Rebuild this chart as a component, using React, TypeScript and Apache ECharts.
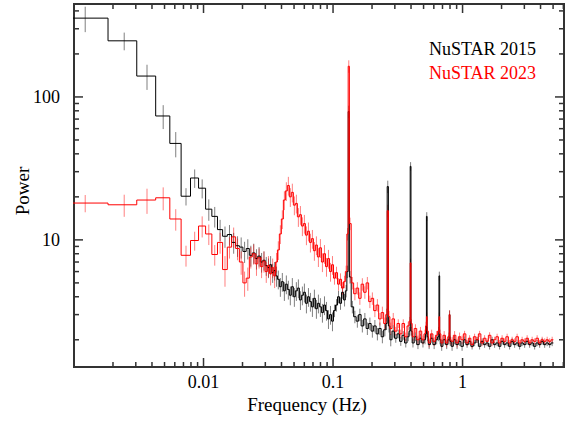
import React, { useEffect, useRef } from "react";
import * as echarts from "echarts";

// ---- Data ----
const DF = 0.0012207; // Fourier frequency resolution (Hz)
const lowBinIndex = [1, 2, 3, 4, 5, 6, 7, 8, 9, 10, 11, 12, 13, 14, 15, 16, 17, 18, 19, 20, 21, 22, 23, 24, 25, 26, 27, 28, 29, 30];

const power2015Low = [356, 247, 140, 73.6, 47.3, 20.2, 27.1, 23.0, 16.4, 14.6, 11.8, 10.6, 10.9, 9.6, 9.1, 8.9, 8.3, 8.7, 7.8, 8.1, 7.4, 7.7, 7.0, 7.2, 6.6, 6.4, 6.7, 5.9, 6.1, 5.6];
const err2015Low = [72, 35, 28, 14, 9.5, 2.8, 4.0, 3.5, 2.8, 2.4, 2.0, 1.8, 1.8, 1.6, 1.5, 1.5, 1.4, 1.4, 1.3, 1.3, 1.2, 1.2, 1.1, 1.1, 1.0, 1.0, 1.0, 0.9, 0.9, 0.9];

const power2023Low = [18.1, 17.6, 19.0, 19.7, 14.0, 7.8, 9.9, 12.5, 11.0, 7.9, 9.6, 6.2, 8.9, 10.5, 8.7, 7.0, 5.0, 5.4, 7.6, 8.0, 6.8, 7.5, 6.5, 7.1, 6.0, 6.6, 5.8, 6.4, 5.6, 7.0];
const err2023Low = [2.5, 3.1, 3.8, 3.6, 2.4, 1.3, 1.5, 2.1, 1.8, 1.3, 1.6, 1.5, 1.5, 1.7, 1.5, 1.3, 1.0, 1.0, 1.3, 1.3, 1.2, 1.2, 1.1, 1.2, 1.0, 1.1, 1.0, 1.0, 1.0, 1.1];

const freqDense = [
  0.0378, 0.0392, 0.0406, 0.0421, 0.0436, 0.0452, 0.0468, 0.0485, 0.0503, 0.0521,
  0.0540, 0.0560, 0.0580, 0.0601, 0.0623, 0.0646, 0.0669, 0.0693, 0.0718, 0.0744,
  0.0771, 0.0799, 0.0828, 0.0859, 0.0890, 0.0922, 0.0956, 0.0990, 0.1026, 0.1064,
  0.1102, 0.1142, 0.1184, 0.1227, 0.1262, 0.1295, 0.1323, 0.1352, 0.1410, 0.1474,
  0.1541, 0.1611, 0.1684, 0.1761, 0.1841, 0.1925, 0.2012, 0.2104, 0.2200, 0.2300,
  0.2404, 0.2514, 0.2590, 0.2646, 0.2705, 0.2790, 0.2917, 0.3050, 0.3189, 0.3334,
  0.3485, 0.3644, 0.3810, 0.3915, 0.3969, 0.4025, 0.4140, 0.4328, 0.4525, 0.4731,
  0.4946, 0.5130, 0.5225, 0.5292, 0.5360, 0.5520, 0.5771, 0.6034, 0.6308, 0.6530,
  0.6615, 0.6700, 0.6900, 0.7214, 0.7542, 0.7840, 0.7938, 0.8040,
  0.8300, 0.8677, 0.9072, 0.9485, 0.9916, 1.0367, 1.0839, 1.1332, 1.1847, 1.2386,
  1.2949, 1.3538, 1.4154, 1.4798, 1.5471, 1.6175, 1.6911, 1.7680, 1.8484, 1.9325,
  2.0204, 2.1123, 2.2084, 2.3089, 2.4139, 2.5237, 2.6385, 2.7585, 2.8840, 3.0152,
  3.1524, 3.2958, 3.4457, 3.6024, 3.7663, 3.9376, 4.1167, 4.3040, 4.4998, 4.7045,
  4.9185,
];

const power2015Dense = [
  5.3, 4.7, 5.1, 4.4, 4.9, 4.5, 4.1, 4.7, 4.0, 4.4,
  4.6, 3.8, 4.1, 4.3, 3.6, 4.0, 3.7, 3.4, 3.9, 3.3,
  3.6, 3.4, 3.1, 3.5, 3.2, 2.8, 3.0, 2.7, 3.2, 3.5,
  4.0, 3.6, 4.3, 3.8, 4.4, 6.0, 79, 5.5, 3.4, 2.9,
  2.7, 3.0, 2.5, 2.8, 2.4, 2.6, 2.3, 2.5, 2.2, 2.4,
  2.1, 2.35, 2.6, 23.6, 2.5, 2.0, 2.3, 2.05, 2.2, 1.95,
  2.15, 1.9, 2.1, 2.3, 32.7, 2.3, 1.9, 2.1, 1.85, 2.05,
  1.9, 2.0, 2.2, 14.6, 2.1, 1.85, 2.05, 1.85, 2.0, 2.1,
  5.6, 2.0, 1.8, 2.0, 1.85, 2.0, 3.0, 1.95,
  1.8, 2.0, 1.85, 1.95, 1.8, 2.0, 1.85, 1.95, 1.8, 1.9,
  2.0, 1.8, 1.95, 1.85, 1.9, 1.8, 2.0, 1.85, 1.9, 1.8,
  1.95, 1.85, 1.9, 1.8, 1.95, 1.85, 1.9, 1.8, 1.9, 1.85,
  1.95, 1.85, 1.9, 1.8, 1.9, 1.85, 1.95, 1.85, 1.9, 1.85,
  1.9,
];

const power2023Dense = [
  8.5, 11, 14, 19, 22, 24, 20, 21.5, 17.5, 18,
  14.5, 15, 12.5, 13, 10.8, 11.5, 9.6, 10.2, 8.4, 9.2,
  7.6, 8.8, 7.0, 8.0, 6.5, 7.4, 6.0, 6.7, 5.4, 5.9,
  4.9, 5.3, 4.6, 5.1, 6.0, 11, 164, 13, 5.0, 4.2,
  4.6, 3.9, 4.9, 4.3, 5.0, 3.7, 3.9, 3.2, 3.5, 2.8,
  3.1, 2.6, 3.0, 16, 2.9, 2.4, 2.8, 2.3, 2.6, 2.2,
  2.6, 2.1, 2.5, 2.7, 6.9, 2.6, 2.1, 2.4, 2.0, 2.3,
  2.0, 2.2, 2.5, 2.9, 2.3, 1.9, 2.2, 1.95, 2.15, 2.3,
  2.9, 2.2, 1.9, 2.15, 1.9, 2.1, 3.0, 2.0,
  1.95, 2.15, 1.9, 2.1, 2.0, 2.2, 1.9, 2.05, 1.85, 2.1,
  2.0, 2.2, 1.9, 2.05, 1.95, 2.15, 1.9, 2.0, 2.1, 1.9,
  2.05, 1.95, 2.1, 1.9, 2.0, 1.95, 2.1, 1.9, 2.0, 1.95,
  2.05, 1.9, 2.0, 1.95, 2.05, 1.9, 2.0, 1.95, 2.0, 1.95,
  2.0,
];

// relative error of the dense part: [upper frequency limit, fractional error]
const relErrDense: [number, number][] = [
  [0.1, 0.15],
  [0.3, 0.1],
  [1.0, 0.07],
  [10, 0.05],
];

const seriesNames = ["NuSTAR 2015", "NuSTAR 2023"];
const seriesColors = ["#000000", "#ff0000"];
const xTickLabels = [0.01, 0.1, 1];
const yTickLabels = [10, 100];

const X_MIN = 0.001;
const X_MAX = 6.07;
const Y_MIN = 1.29;
const Y_MAX = 447;
const FONT = "'Liberation Serif', 'Times New Roman', serif";

function relErrFor(f: number): number {
  for (const [lim, r] of relErrDense) if (f <= lim) return r;
  return relErrDense[relErrDense.length - 1][1];
}

function buildSeries(lowP: number[], lowE: number[], denseP: number[]) {
  const freqs = [...lowBinIndex.map((k) => k * DF), ...freqDense];
  const powers = [...lowP, ...denseP];
  const errs = [...lowE, ...denseP.map((p, i) => p * relErrFor(freqDense[i]))];
  const n = freqs.length;
  const step: number[][] = [];
  const bars: number[][] = [];
  for (let i = 0; i < n; i++) {
    const f = freqs[i];
    const lo = i === 0 ? f - (freqs[1] - f) / 2 : (freqs[i - 1] + f) / 2;
    const hi = i === n - 1 ? f + (f - freqs[n - 2]) / 2 : (f + freqs[i + 1]) / 2;
    step.push([lo, powers[i]], [hi, powers[i]]);
    bars.push([f, powers[i] - errs[i], powers[i] + errs[i]]);
  }
  return { step, bars };
}

function matchLabel(v: number, list: number[]): string {
  for (const t of list) {
    if (Math.abs(Math.log10(v) - Math.log10(t)) < 1e-6) return String(t);
  }
  return "";
}

function tickValues(min: number, max: number): number[][] {
  const out: number[][] = [];
  for (let e = -4; e <= 3; e++) {
    for (let m = 1; m <= 9; m++) {
      const v = m * Math.pow(10, e);
      if (v >= min * 1.0001 && v <= max * 0.9999) out.push([v, m === 1 ? 1 : 0]);
    }
  }
  return out;
}

export default function App() {
  const ref = useRef<HTMLDivElement>(null);

  useEffect(() => {
    if (!ref.current) return;
    const chart = echarts.init(ref.current, undefined, { renderer: "svg" });

    const s2015 = buildSeries(power2015Low, err2015Low, power2015Dense);
    const s2023 = buildSeries(power2023Low, err2023Low, power2023Dense);

    const errSeries = (data: number[][], color: string, name: string) => ({
      type: "custom",
      name,
      clip: true,
      silent: true,
      encode: { x: 0, y: [1, 2] },
      data,
      renderItem: (params: any, api: any) => {
        const p1 = api.coord([api.value(0), api.value(1)]);
        const p2 = api.coord([api.value(0), api.value(2)]);
        return {
          type: "line",
          shape: { x1: p1[0], y1: p1[1], x2: p2[0], y2: p2[1] },
          style: { stroke: color, lineWidth: 1, opacity: 0.5 },
        };
      },
    });

    const stepSeries = (data: number[][], color: string, name: string) => ({
      type: "line",
      name,
      data,
      showSymbol: false,
      symbol: "none",
      silent: true,
      clip: true,
      lineStyle: { color, width: 1 },
    });

    const xTicks = tickValues(X_MIN, X_MAX).map((t) => [t[0], 10, t[1]]);
    const yTicks = tickValues(Y_MIN, Y_MAX).map((t) => [1, t[0], t[1]]);
    const tickColor = "#333";

    const option: any = {
      animation: false,
      backgroundColor: "#ffffff",
      textStyle: { fontFamily: FONT },
      grid: {
        left: 74,
        right: 7,
        top: 4,
        bottom: 55,
        show: true,
        borderColor: "#333",
        borderWidth: 2,
        backgroundColor: "transparent",
      },
      xAxis: {
        type: "log",
        logBase: 10,
        min: X_MIN,
        max: X_MAX,
        axisLine: { show: false },
        axisTick: { show: false },
        splitLine: { show: false },
        minorTick: { show: false },
        axisLabel: {
          margin: 6,
          fontFamily: FONT,
          fontSize: 18,
          color: "#000",
          showMinLabel: true,
          showMaxLabel: true,
          formatter: (v: number) => matchLabel(v, xTickLabels),
        },
      },
      yAxis: {
        type: "log",
        logBase: 10,
        min: Y_MIN,
        max: Y_MAX,
        axisLine: { show: false },
        axisTick: { show: false },
        splitLine: { show: false },
        axisLabel: {
          margin: 14,
          fontFamily: FONT,
          fontSize: 18,
          color: "#000",
          formatter: (v: number) => matchLabel(v, yTickLabels),
        },
      },
      graphic: [
        {
          type: "text",
          x: 429,
          y: 49,
          style: { text: seriesNames[0], fill: seriesColors[0], font: "18px " + FONT, verticalAlign: "middle", align: "left" },
        },
        {
          type: "text",
          x: 429,
          y: 73,
          style: { text: seriesNames[1], fill: seriesColors[1], font: "18px " + FONT, verticalAlign: "middle", align: "left" },
        },
        {
          type: "text",
          x: 307,
          y: 404,
          style: { text: "Frequency (Hz)", fill: "#000", font: "19px " + FONT, verticalAlign: "middle", align: "center" },
        },
        {
          type: "text",
          x: 22,
          y: 191,
          rotation: Math.PI / 2,
          style: { text: "Power", fill: "#000", font: "19px " + FONT, verticalAlign: "middle", align: "center" },
        },
      ],
      series: [
        stepSeries(s2015.step, seriesColors[0], seriesNames[0]),
        errSeries(s2015.bars, seriesColors[0], seriesNames[0] + " err"),
        stepSeries(s2023.step, seriesColors[1], seriesNames[1]),
        errSeries(s2023.bars, seriesColors[1], seriesNames[1] + " err"),
        {
          type: "custom",
          name: "xticks",
          silent: true,
          encode: { x: 0, y: 1 },
          data: xTicks,
          renderItem: (params: any, api: any) => {
            const px = api.coord([api.value(0), 10])[0];
            const cs = params.coordSys;
            const L = api.value(2) ? 9 : 5;
            const b = cs.y + cs.height;
            return {
              type: "group",
              children: [
                { type: "line", shape: { x1: px, y1: b, x2: px, y2: b - L }, style: { stroke: tickColor, lineWidth: 1.5 } },
                { type: "line", shape: { x1: px, y1: cs.y, x2: px, y2: cs.y + L }, style: { stroke: tickColor, lineWidth: 1.5 } },
              ],
            };
          },
        },
        {
          type: "custom",
          name: "yticks",
          silent: true,
          encode: { x: 0, y: 1 },
          data: yTicks,
          renderItem: (params: any, api: any) => {
            const py = api.coord([1, api.value(1)])[1];
            const cs = params.coordSys;
            const L = api.value(2) ? 9 : 5;
            const r = cs.x + cs.width;
            return {
              type: "group",
              children: [
                { type: "line", shape: { x1: cs.x, y1: py, x2: cs.x + L, y2: py }, style: { stroke: tickColor, lineWidth: 1.5 } },
                { type: "line", shape: { x1: r, y1: py, x2: r - L, y2: py }, style: { stroke: tickColor, lineWidth: 1.5 } },
              ],
            };
          },
        },
      ],
    };

    chart.setOption(option);
    return () => chart.dispose();
  }, []);

  return (
    <div
      ref={ref}
      style={{ position: "absolute", left: 0, top: 0, width: 571, height: 422 }}
    />
  );
}
